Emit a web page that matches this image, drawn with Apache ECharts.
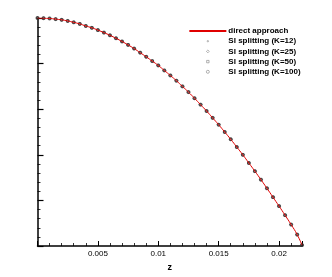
<!DOCTYPE html>
<html><head><meta charset="utf-8">
<script src="https://cdn.jsdelivr.net/npm/echarts@6/dist/echarts.min.js"></script>
<style>html,body{margin:0;padding:0;background:#fff}#c{width:332px;height:277px}</style>
</head><body><div id="c"></div>
<script>
var zValues = [0,0.0005,0.001,0.0015,0.002,0.0025,0.003,0.0035,0.004,0.0045,0.005,0.0055,0.006,0.0065,0.007,0.0075,0.008,0.0085,0.009,0.0095,0.01,0.0105,0.011,0.0115,0.012,0.0125,0.013,0.0135,0.014,0.0145,0.015,0.0155,0.016,0.0165,0.017,0.0175,0.018,0.0185,0.019,0.0195,0.02,0.0205,0.021,0.0215,0.0219];
var directValues = [1.000,0.999,0.998,0.995,0.992,0.987,0.981,0.974,0.965,0.957,0.947,0.936,0.924,0.911,0.897,0.882,0.866,0.848,0.830,0.811,0.792,0.770,0.748,0.725,0.700,0.675,0.648,0.620,0.592,0.562,0.532,0.500,0.468,0.434,0.400,0.364,0.328,0.291,0.253,0.214,0.175,0.135,0.094,0.050,0.004];
var siK12 = directValues.slice();
var siK25 = directValues.slice();
var siK50 = directValues.slice();
var siK100 = directValues.slice();
var xTicks = [0.005,0.01,0.015,0.02];

function pairs(v){ return zValues.map(function(z,i){return [z,v[i]];}); }
var font = 'Liberation Sans, Arial, sans-serif';
var chart = echarts.init(document.getElementById('c'));
var mk = function(name, data, symbol, size){
  return {name:name, type:'scatter', data:pairs(data), symbol:symbol, symbolSize:size,
    itemStyle:{color:'rgba(255,255,255,0)', borderColor:'#333', borderWidth:0.7}, z:2};
};
var box = 'M0,0M37,6';
var leg = function(name, shape){
  return {name:name, icon:'path://' + box + shape,
    itemStyle:{color:'rgba(255,255,255,0)', borderColor:'#777', borderWidth:0.7}};
};
chart.setOption({
  animation:false,
  textStyle:{fontFamily:font},
  grid:{left:37.5, right:30, top:18, bottom:31},
  legend:{left:184, top:22, orient:'vertical', itemWidth:37, itemHeight:6, itemGap:2.2,
    textStyle:{fontSize:8, fontWeight:'bold', color:'#000', fontFamily:font, padding:[0,0,0,-3]},
    data:[{name:'direct approach', icon:'path://M0,0M37,6M0,2.1H37V3.9H0Z',
            itemStyle:{color:'#e00000', borderWidth:0}},
          leg('SI splitting (K=12)', 'M17.8,3a0.7,0.7 0 1,0 1.4,0a0.7,0.7 0 1,0 -1.4,0Z'),
          leg('SI splitting (K=25)', 'M18.5,1.6L19.9,3L18.5,4.4L17.1,3Z'),
          leg('SI splitting (K=50)', 'M17.3,1.8H19.7V4.2H17.3Z'),
          leg('SI splitting (K=100)', 'M17,3a1.5,1.5 0 1,0 3,0a1.5,1.5 0 1,0 -3,0Z')]},
  xAxis:{type:'value', min:0, max:0.0219, interval:0.005,
    name:'z', nameLocation:'middle', nameGap:15, nameTextStyle:{fontSize:9, fontWeight:'bold', color:'#000'},
    axisLine:{lineStyle:{color:'#000', width:1.5}},
    axisTick:{inside:true, length:5, lineStyle:{color:'#000', width:1}},
    minorTick:{show:true, splitNumber:5, length:3, lineStyle:{color:'#000', width:0.8}},
    splitLine:{show:false},
    axisLabel:{fontSize:8, color:'#000', margin:4, showMinLabel:false, showMaxLabel:false,
      formatter:function(v){ return xTicks.indexOf(+v.toFixed(4))>=0 ? String(+v.toFixed(4)) : ''; }}},
  yAxis:{type:'value', min:0, max:1, interval:0.2,
    axisLine:{lineStyle:{color:'#000', width:1.5}},
    axisTick:{inside:true, length:6, lineStyle:{color:'#000', width:1.2}},
    minorTick:{show:true, splitNumber:5, length:3, lineStyle:{color:'#000', width:0.8}},
    splitLine:{show:false}, axisLabel:{show:false}},
  series:[
    {name:'direct approach', type:'line', data:pairs(directValues), showSymbol:false, smooth:true,
      lineStyle:{color:'#e00000', width:1}, itemStyle:{color:'#e00000'}, z:3},
    mk('SI splitting (K=12)', siK12, 'circle', 1.6),
    mk('SI splitting (K=25)', siK25, 'diamond', 3),
    mk('SI splitting (K=50)', siK50, 'rect', 2.5),
    mk('SI splitting (K=100)', siK100, 'circle', 3)
  ]
});
</script></body></html>
